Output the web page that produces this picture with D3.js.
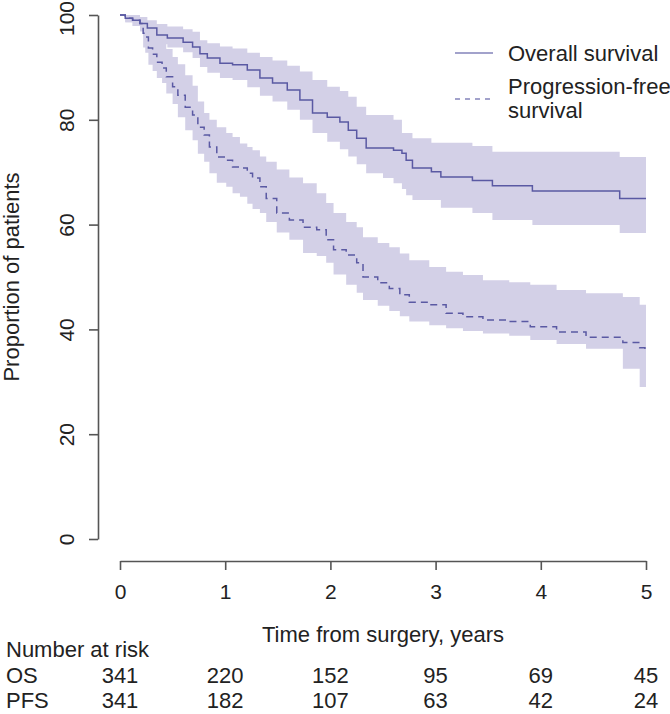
<!DOCTYPE html>
<html>
<head>
<meta charset="utf-8">
<script src="https://cdn.jsdelivr.net/npm/d3@7"></script>
<style>
  html, body { margin: 0; padding: 0; background: #fff; }
  svg { display: block; }
  text { font-family: "Liberation Sans", Arial, Helvetica, sans-serif; fill: #222; }
</style>
</head>
<body>
<svg id="chart" width="670" height="714"></svg>
<script>
// ---------------- data ----------------
const YEAR_TICKS = [0, 1, 2, 3, 4, 5];
const PCT_TICKS = [0, 20, 40, 60, 80, 100];

const OS_TIME = [0,0.05,0.12,0.19,0.26,0.35,0.45,0.60,0.69,0.76,0.83,0.95,1.07,1.21,1.33,1.45,1.59,1.71,1.83,1.97,2.09,2.17,2.25,2.34,2.50,2.60,2.68,2.72,2.78,2.96,3.05,3.35,3.54,3.92,4.75,5.0];
const OS_EST  = [100,99.4,99.0,98.4,97.5,96.2,95.6,94.8,93.9,92.6,91.8,90.8,90.5,89.5,88.0,87.0,85.7,83.8,81.3,80.5,79.6,78.0,76.5,74.6,74.6,74.2,73.6,72.3,70.8,70.1,69.1,68.4,67.4,66.4,65.0,65.0];
const OS_LO   = [100,98.6,97.9,96.9,95.8,94.4,93.8,92.9,91.8,90.1,89.0,88.0,87.6,86.2,84.6,83.5,81.9,80.0,77.5,75.8,74.4,73.0,71.5,69.8,68.9,67.9,66.8,65.6,64.7,64.7,63.2,62.2,60.9,59.9,58.4,58.4];
const OS_HI   = [100,100,100,99.6,99.0,98.3,97.8,97.3,96.8,95.2,94.6,94.0,93.6,92.8,92.0,91.3,90.3,89.2,87.6,86.3,85.5,84.4,82.5,80.9,80.9,80.0,77.5,77.5,76.5,75.6,75.6,75.0,73.9,73.9,72.9,72.9];

const PFS_TIME = [0,0.05,0.12,0.19,0.22,0.24,0.27,0.31,0.35,0.40,0.44,0.50,0.55,0.62,0.69,0.74,0.80,0.85,0.92,1.01,1.07,1.14,1.21,1.26,1.33,1.39,1.49,1.61,1.74,1.87,1.96,2.03,2.15,2.25,2.31,2.45,2.56,2.66,2.75,2.94,3.10,3.26,3.45,3.70,3.90,4.15,4.43,4.78,4.94,4.99,5.0];
const PFS_EST  = [100,99.4,99.0,98.4,96.5,95.8,93.7,92.5,91.0,89.9,88.2,86.3,84.7,82.4,80.9,78.6,77.1,74.8,72.9,72.3,71.0,70.8,69.8,68.9,67.2,65.0,62.2,60.9,59.5,59.0,57.1,55.2,54.2,52.7,50.0,48.9,47.8,46.6,45.2,44.7,43.1,42.4,41.8,41.5,40.5,39.5,38.5,37.5,36.5,35.5,35.5];
const PFS_LO   = [100,98.6,97.9,96.9,93.8,92.8,90.5,89.3,88.0,87.0,85.0,83.0,80.5,78.0,76.1,73.5,72.0,69.8,68.0,67.2,66.0,65.3,64.0,63.0,62.2,60.5,58.5,57.1,54.6,54.0,52.7,50.5,48.5,47.0,45.6,44.5,43.5,42.5,41.5,40.8,40.2,39.7,39.2,38.8,38.0,37.2,36.3,32.5,29.0,29.0,29.0];
const PFS_HI   = [100,100,100,99.6,99.2,98.8,98.0,97.0,96.0,94.8,93.5,92.0,90.6,88.5,86.5,83.5,81.3,80.0,78.6,77.5,76.7,75.5,74.8,74.2,73.0,72.0,70.5,69.0,67.9,66.0,64.1,62.2,60.5,59.5,57.6,56.5,55.7,54.5,53.2,51.9,51.0,50.4,49.4,49.0,48.5,47.5,46.9,46.2,44.7,44.7,44.7];

const RISK_GROUPS = ["OS", "PFS"];
const RISK_OS  = [341, 220, 152, 95, 69, 45];
const RISK_PFS = [341, 182, 107, 63, 42, 24];

const LEGEND_LABELS = [["Overall survival"], ["Progression-free", "survival"]];

// ---------------- layout / style ----------------
const FONT = 22;
const TICK_FONT = 21;
const BAND = "#d3d0e7";
const LINE = "#5a59a3";
const AXIS = "#555";

const svg = d3.select("#chart");
const x = d3.scaleLinear().domain([0, 5]).range([120, 646]);
const y = d3.scaleLinear().domain([0, 100]).range([539, 15]);

function series(t, est, lo, hi) {
  return t.map((d, i) => ({ t: d, est: est[i], lo: lo[i], hi: hi[i] }));
}
const os = series(OS_TIME, OS_EST, OS_LO, OS_HI);
const pfs = series(PFS_TIME, PFS_EST, PFS_LO, PFS_HI);

const area = d3.area().curve(d3.curveStepAfter)
  .x(d => x(d.t)).y0(d => y(d.lo)).y1(d => y(d.hi));
const line = d3.line().curve(d3.curveStepAfter)
  .x(d => x(d.t)).y(d => y(d.est));

// bands
svg.append("path").datum(os).attr("d", area).attr("fill", BAND);
svg.append("path").datum(pfs).attr("d", area).attr("fill", BAND);
// lines
svg.append("path").datum(os).attr("d", line)
  .attr("fill", "none").attr("stroke", LINE).attr("stroke-width", 1.5);
svg.append("path").datum(pfs).attr("d", line)
  .attr("fill", "none").attr("stroke", LINE).attr("stroke-width", 1.5)
  .attr("stroke-dasharray", "7,5");

// y axis
const yAxis = svg.append("g").attr("transform", `translate(98,0)`)
  .call(d3.axisLeft(y).tickValues(PCT_TICKS).tickFormat(d3.format("d")).tickSize(9).tickSizeOuter(0));
yAxis.select(".domain").attr("stroke", AXIS).attr("stroke-width", 1.6);
yAxis.selectAll(".tick line").attr("stroke", AXIS).attr("stroke-width", 1.6);
yAxis.selectAll(".tick text")
  .attr("x", null).attr("dy", null)
  .attr("text-anchor", "middle")
  .attr("transform", d => `translate(-24,${d === 100 ? 3 : 0}) rotate(-90)`)
  .style("font-size", TICK_FONT + "px").attr("fill", "#222");

// x axis
const xAxis = svg.append("g").attr("transform", `translate(0,561)`)
  .call(d3.axisBottom(x).tickValues(YEAR_TICKS).tickFormat(d3.format("d")).tickSize(9).tickSizeOuter(0));
xAxis.select(".domain").attr("stroke", AXIS).attr("stroke-width", 1.6);
xAxis.selectAll(".tick line").attr("stroke", AXIS).attr("stroke-width", 1.6);
xAxis.selectAll(".tick text")
  .attr("y", 38).attr("dy", null)
  .style("font-size", TICK_FONT + "px").attr("fill", "#222");

// axis titles
svg.append("text")
  .attr("transform", `translate(19,${(y(0) + y(100)) / 2}) rotate(-90)`)
  .attr("text-anchor", "middle").style("font-size", FONT + "px")
  .text("Proportion of patients");
svg.append("text")
  .attr("x", (x(0) + x(5)) / 2).attr("y", 642)
  .attr("text-anchor", "middle").style("font-size", FONT + "px")
  .text("Time from surgery, years");

// number at risk table
svg.append("text").attr("x", 6).attr("y", 657)
  .style("font-size", FONT + "px").text("Number at risk");
const riskRows = [RISK_OS, RISK_PFS];
riskRows.forEach((row, r) => {
  const yy = 683 + r * 25;
  svg.append("text").attr("x", 6).attr("y", yy)
    .style("font-size", FONT + "px").text(RISK_GROUPS[r]);
  svg.append("g").selectAll("text").data(row).join("text")
    .attr("x", (d, i) => x(YEAR_TICKS[i])).attr("y", yy)
    .attr("text-anchor", "middle").style("font-size", FONT + "px")
    .text(d => d);
});

// legend
const leg = svg.append("g");
leg.append("line").attr("x1", 455).attr("x2", 493).attr("y1", 53).attr("y2", 53)
  .attr("stroke", LINE).attr("stroke-opacity", 0.75).attr("stroke-width", 1.5);
leg.append("line").attr("x1", 455).attr("x2", 493).attr("y1", 99).attr("y2", 99)
  .attr("stroke", LINE).attr("stroke-opacity", 0.75).attr("stroke-width", 1.5)
  .attr("stroke-dasharray", "5,5");
const legBaselines = [[61], [94, 118]];
LEGEND_LABELS.forEach((lines, i) => {
  lines.forEach((txt, j) => {
    leg.append("text").attr("x", 508).attr("y", legBaselines[i][j])
      .style("font-size", FONT + "px").text(txt);
  });
});
</script>
</body>
</html>
